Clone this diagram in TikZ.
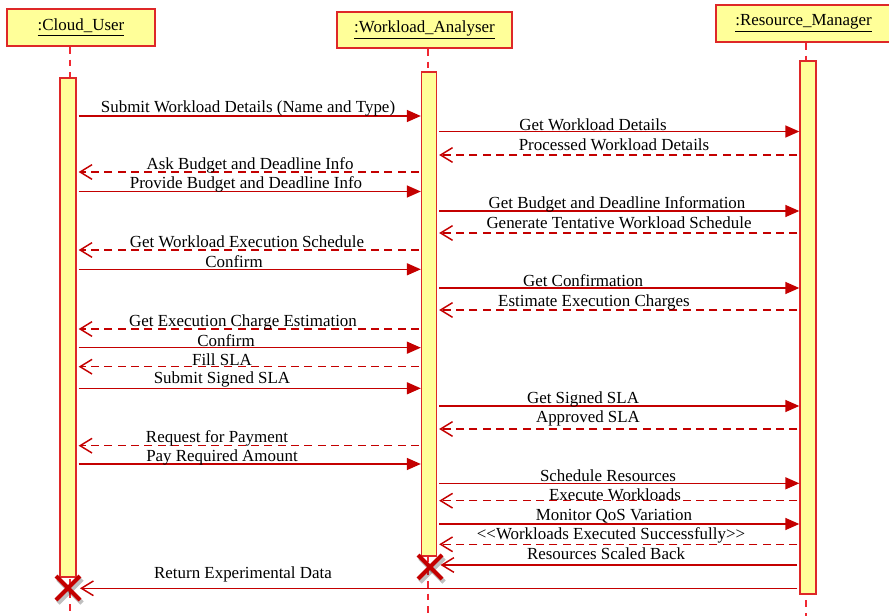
\documentclass[tikz,border=0pt]{standalone}
\usepackage{fontspec}
\setmainfont{Liberation Serif}
\usepackage{xcolor}
\usetikzlibrary{positioning, calc, arrows.meta}
\definecolor{msgred}{RGB}{196,0,0}
\definecolor{edgered}{RGB}{222,40,40}
\definecolor{liferd}{RGB}{240,40,50}
\definecolor{umlyellow}{RGB}{255,255,153}

\begin{document}
\begin{tikzpicture}[x=0.75pt,y=-0.75pt,
    every node/.style={font=\fontsize{12.7}{15}\selectfont},
    head/.style={draw=edgered,fill=umlyellow,line width=1.5pt,inner sep=0pt},
    bar/.style={draw=edgered,fill=umlyellow,line width=1pt,inner sep=0pt},
    life/.style={draw=liferd,line width=1.1pt,dash pattern=on 5pt off 4.5pt},
    call/.style={msgred,line width=1.1pt,shorten <=1.5pt,-{Triangle[length=10.5pt,width=9pt]}},
    reply/.style={msgred,line width=1.1pt,dash pattern=on 6pt off 4pt,shorten <=1.5pt,shorten >=1.5pt,-{Straight Barb[length=9pt,width=11pt]}},
    back/.style={msgred,line width=1.1pt,shorten <=1.5pt,shorten >=2.5pt,-{Straight Barb[length=9pt,width=11pt]}},
    msg/.style={anchor=base,inner sep=0pt,yshift=-0.8pt},
    kill/.style={msgred,line width=3pt},
    killshade/.style={black,opacity=.25,line width=3.5pt}]
  \useasboundingbox (0,0) rectangle (889,616);
  % heads
  \node[head,minimum width=111pt,minimum height=27.75pt] (cu) at (81,27.5) {\underline{:Cloud\_User}};
  \node[head,minimum width=131.25pt,minimum height=27pt] (wa) at (424.5,30) {\underline{:Workload\_Analyser}};
  \node[head,minimum width=131.25pt,minimum height=27.75pt] (rm) at (803.5,23.5) {\underline{:Resource\_Manager}};
  % lifelines
  \draw[life] (70,0 |- cu.south) -- (70,616);
  \draw[life] (428,0 |- wa.south) -- (428,616);
  \draw[life] (806,0 |- rm.south) -- (806,616);
  % activation bars
  \node[bar,minimum width=12pt,minimum height=374.25pt] (cubar) at (68,327.5) {};
  \node[bar,minimum width=11.25pt,minimum height=363pt] (wabar) at (429,314) {};
  \node[bar,minimum width=12pt,minimum height=399.75pt] (rmbar) at (808,327.5) {};
  % messages: line y / baseline / label x / from / to / style / text
  \foreach \ly/\bl/\lx/\from/\to/\kind/\txt in {
      116/111/248/cubar.east/wabar.west/call/Submit Workload Details (Name and Type),
      131.5/129/593/wabar.east/rmbar.west/call/Get Workload Details,
      155/149/614/rmbar.west/wabar.east/reply/Processed Workload Details,
      172/168/250/wabar.west/cubar.east/reply/Ask Budget and Deadline Info,
      191.5/187.7/246/cubar.east/wabar.west/call/Provide Budget and Deadline Info,
      211/207/617/wabar.east/rmbar.west/call/Get Budget and Deadline Information,
      233/227/619/rmbar.west/wabar.east/reply/Generate Tentative Workload Schedule,
      250/246.7/247/wabar.west/cubar.east/reply/Get Workload Execution Schedule,
      269.3/266.7/234/cubar.east/wabar.west/call/Confirm,
      288/285/583/wabar.east/rmbar.west/call/Get Confirmation,
      310/305/594/rmbar.west/wabar.east/reply/Estimate Execution Charges,
      329/325/243/wabar.west/cubar.east/reply/Get Execution Charge Estimation,
      347.7/345/226/cubar.east/wabar.west/call/Confirm,
      366.7/364/222/wabar.west/cubar.east/reply/Fill SLA,
      388.3/382.7/222/cubar.east/wabar.west/call/Submit Signed SLA,
      406/402.7/583/wabar.east/rmbar.west/call/Get Signed SLA,
      429/421.7/588/rmbar.west/wabar.east/reply/Approved SLA,
      445.7/441.7/217/wabar.west/cubar.east/reply/Request for Payment,
      464/460.7/222/cubar.east/wabar.west/call/Pay Required Amount,
      483.3/480/608/wabar.east/rmbar.west/call/Schedule Resources,
      500.7/499/615/rmbar.west/wabar.east/reply/Execute Workloads,
      524/519.3/614/wabar.east/rmbar.west/call/Monitor QoS Variation,
      544.3/538.3/611/rmbar.west/wabar.east/reply/<\kern0pt<Workloads Executed Successfully>\kern0pt>,
      565/558.3/606/rmbar.west/wabar.east/back/Resources Scaled Back,
      588.3/577.7/243/rmbar.west/cubar.east/back/Return Experimental Data}
  {
    \draw[\kind] (\from |- 0,\ly) -- (\to |- 0,\ly);
    \node[msg] at (\lx,\bl) {\txt};
  }
  % destruction marks
  \coordinate (cukill) at (68,588);
  \coordinate (wakill) at (430,567);
  \foreach \k in {cukill,wakill} {
    \draw[killshade] ([shift={(-10,-9)}]\k) -- ([shift={(14,15)}]\k);
    \draw[killshade] ([shift={(14,-9)}]\k) -- ([shift={(-10,15)}]\k);
    \draw[kill] ([shift={(-12,-12)}]\k) -- ([shift={(12,12)}]\k);
    \draw[kill] ([shift={(12,-12)}]\k) -- ([shift={(-12,12)}]\k);
  }
\end{tikzpicture}
\end{document}
